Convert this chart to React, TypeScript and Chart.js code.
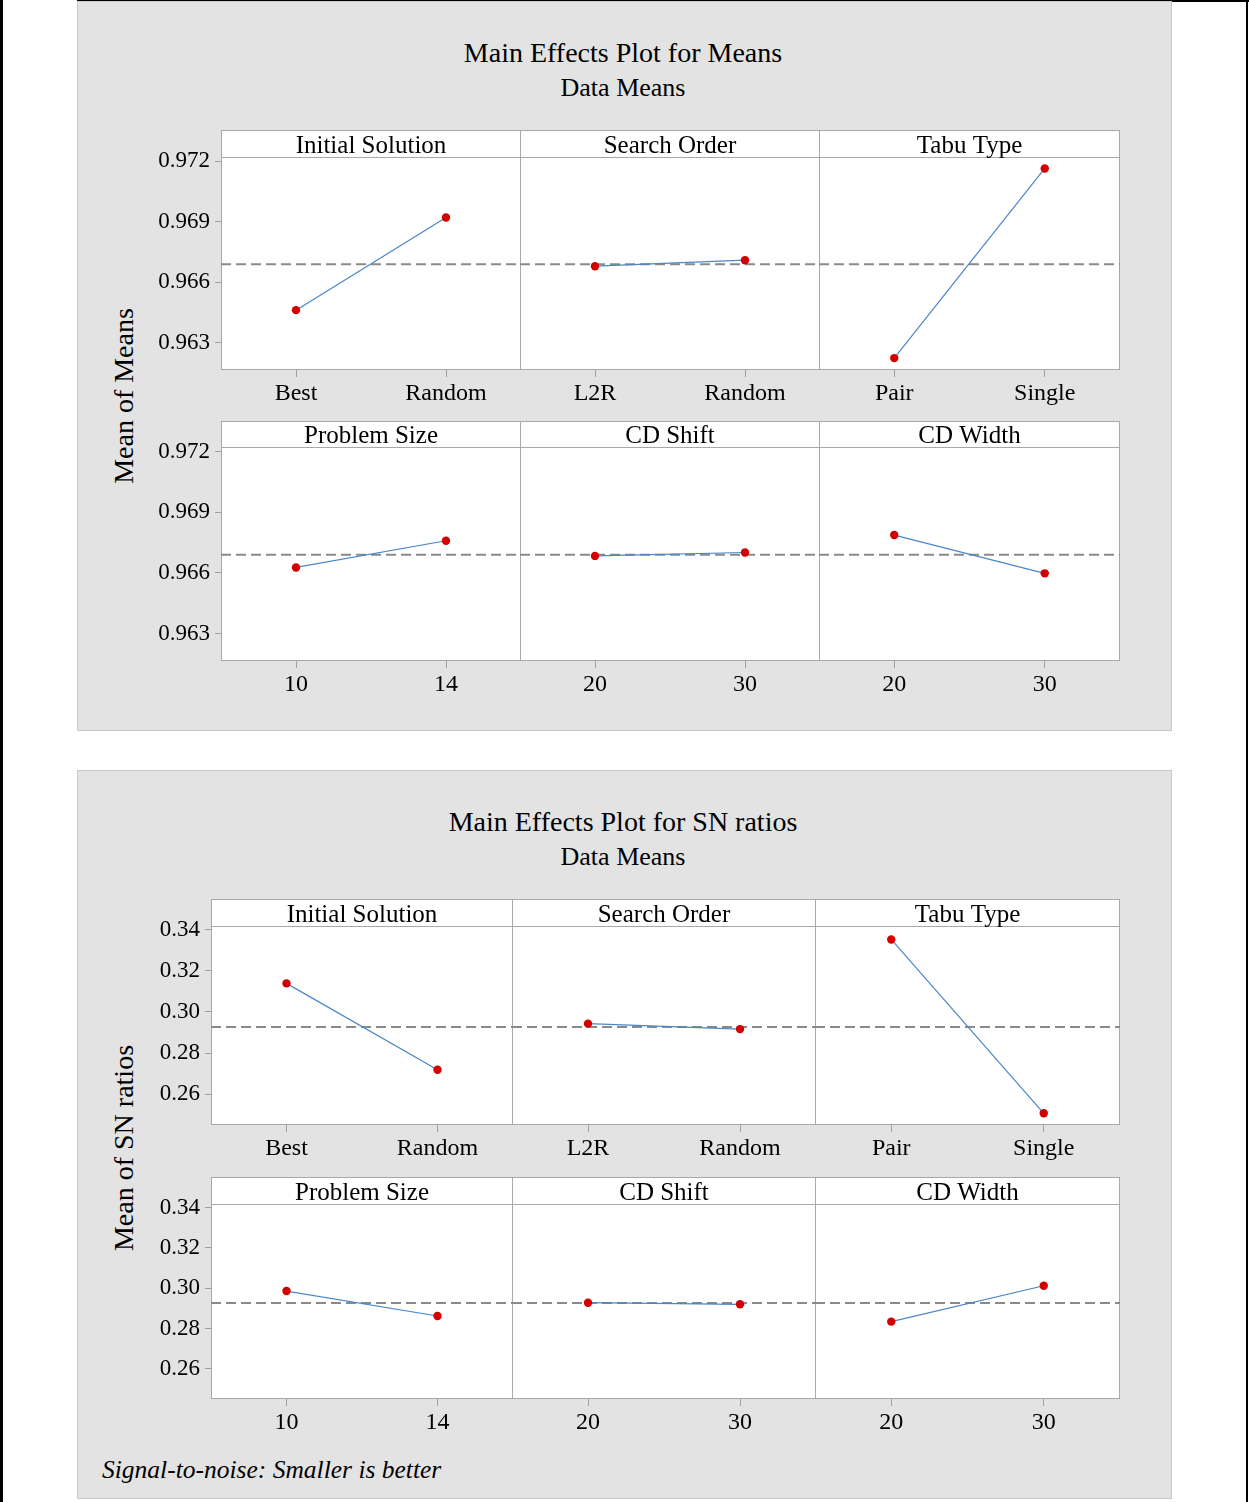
import React, { useEffect, useRef } from "react";
import { Chart, registerables } from "chart.js";

Chart.register(...registerables);

// ---------- data ----------
const factorNames = ["Initial Solution", "Search Order", "Tabu Type", "Problem Size", "CD Shift", "CD Width"];
const factorLevels = [
  ["Best", "Random"],
  ["L2R", "Random"],
  ["Pair", "Single"],
  ["10", "14"],
  ["20", "30"],
  ["20", "30"],
];
const meansValues = [
  [0.96462, 0.96922],
  [0.9668, 0.9671],
  [0.96224, 0.97165],
  [0.96627, 0.96759],
  [0.96684, 0.96701],
  [0.96787, 0.96598],
];
const meansGrand = 0.9669;
const meansTicks = [0.963, 0.966, 0.969, 0.972];
const snValues = [
  [0.31389, 0.27191],
  [0.2943, 0.29165],
  [0.33525, 0.2507],
  [0.29859, 0.28621],
  [0.2928, 0.292],
  [0.2834, 0.3012],
];
const snGrand = 0.2927;
const snTicks = [0.26, 0.28, 0.3, 0.32, 0.34];

const SERIF = '"Liberation Serif", "Times New Roman", serif';

type CellProps = {
  left: number;
  top: number;
  width: number;
  height: number;
  stripH: number;
  xAxisH: number;
  yAxisW: number;
  title: string;
  levels: string[];
  values: number[];
  grand: number;
  yMin: number;
  yMax: number;
  yTicks: number[];
  decimals: number;
};

function Cell(p: CellProps) {
  const ref = useRef<HTMLCanvasElement>(null);
  useEffect(() => {
    const frame = {
      id: "frame",
      beforeDraw(chart: any) {
        const { ctx, chartArea } = chart;
        const { left, top, right, bottom } = chartArea;
        ctx.save();
        ctx.fillStyle = "#ffffff";
        ctx.fillRect(left, top - p.stripH, right - left, bottom - top + p.stripH);
        ctx.strokeStyle = "#a8a8a8";
        ctx.lineWidth = 1;
        ctx.strokeRect(left + 0.5, top - p.stripH + 0.5, right - left - 1, bottom - top + p.stripH - 1);
        ctx.beginPath();
        ctx.moveTo(left, top + 0.5);
        ctx.lineTo(right, top + 0.5);
        ctx.stroke();
        ctx.fillStyle = "#000";
        ctx.font = `25px ${SERIF}`;
        ctx.textAlign = "center";
        ctx.textBaseline = "middle";
        ctx.fillText(p.title, (left + right) / 2, top - p.stripH / 2 + 2.5);
        ctx.restore();
      },
    };
    const chart = new Chart(ref.current as HTMLCanvasElement, {
      type: "line",
      data: {
        datasets: [
          {
            data: [
              { x: -0.5, y: p.grand },
              { x: 1.5, y: p.grand },
            ],
            borderColor: "#8a8a8a",
            borderWidth: 2,
            borderDash: [10, 5],
            pointRadius: 0,
            order: 2,
          },
          {
            data: p.values.map((v, i) => ({ x: i, y: v })),
            borderColor: "#4a86c8",
            borderWidth: 1.2,
            pointRadius: 4.2,
            pointBackgroundColor: "#d40000",
            pointBorderColor: "#d40000",
            pointBorderWidth: 0,
            order: 1,
          },
        ],
      },
      options: {
        animation: false,
        responsive: false,
        maintainAspectRatio: false,
        devicePixelRatio: 1,
        events: [],
        layout: { autoPadding: false, padding: { top: p.stripH, left: 0, right: 0, bottom: 0 } },
        plugins: { legend: { display: false }, tooltip: { enabled: false }, title: { display: false } },
        scales: {
          x: {
            type: "linear",
            min: -0.5,
            max: 1.5,
            afterBuildTicks: (s: any) => {
              s.ticks = [{ value: 0 }, { value: 1 }];
            },
            afterFit: (s: any) => {
              s.height = p.xAxisH;
            },
            ticks: {
              callback: (v: any) => p.levels[Math.round(Number(v))],
              font: { family: SERIF, size: 24 },
              color: "#000",
              padding: 2,
              autoSkip: false,
              maxRotation: 0,
            },
            grid: { drawOnChartArea: false, drawTicks: true, tickLength: 7, color: "#a0a0a0" },
            border: { display: false },
          },
          y: {
            type: "linear",
            display: p.yAxisW > 0,
            min: p.yMin,
            max: p.yMax,
            afterBuildTicks: (s: any) => {
              s.ticks = p.yTicks.map((v) => ({ value: v }));
            },
            afterFit: (s: any) => {
              s.width = p.yAxisW;
            },
            ticks: {
              callback: (v: any) => Number(v).toFixed(p.decimals),
              font: { family: SERIF, size: 23 },
              color: "#000",
              padding: 5,
            },
            grid: { drawOnChartArea: false, drawTicks: true, tickLength: 6, color: "#a0a0a0" },
            border: { display: false },
          },
        },
      },
      plugins: [frame],
    } as any);
    return () => chart.destroy();
  }, []);
  return (
    <canvas
      ref={ref}
      width={p.width}
      height={p.height}
      style={{ position: "absolute", left: p.left, top: p.top, width: p.width, height: p.height }}
    />
  );
}

type GridSpec = {
  cols: number[];
  rows: { top: number; stripBot: number; bot: number }[];
  yAxisW: number;
  values: number[][];
  grand: number;
  yMin: number;
  yMax: number;
  yTicks: number[];
  decimals: number;
};

function Grid(g: GridSpec) {
  const xAxisH = 40;
  const cells: React.ReactNode[] = [];
  g.rows.forEach((r, ri) => {
    for (let c = 0; c < 3; c++) {
      const idx = ri * 3 + c;
      const extra = c === 0 ? g.yAxisW : 0;
      cells.push(
        <Cell
          key={idx}
          left={g.cols[c] - extra}
          top={r.top}
          width={g.cols[c + 1] - g.cols[c] + 1 + extra}
          height={r.bot - r.top + 1 + xAxisH}
          stripH={r.stripBot - r.top}
          xAxisH={xAxisH}
          yAxisW={extra}
          title={factorNames[idx]}
          levels={factorLevels[idx]}
          values={g.values[idx]}
          grand={g.grand}
          yMin={g.yMin}
          yMax={g.yMax}
          yTicks={g.yTicks}
          decimals={g.decimals}
        />
      );
    }
  });
  return <>{cells}</>;
}

const textBase: React.CSSProperties = {
  position: "absolute",
  fontFamily: SERIF,
  color: "#000",
  whiteSpace: "nowrap",
  lineHeight: 1,
  transform: "translate(-50%, -50%)",
};

export default function App() {
  return (
    <div style={{ position: "absolute", left: 0, top: 0, width: 1249, height: 1502, background: "#fff", overflow: "hidden" }}>
      {/* page frame */}
      <div style={{ position: "absolute", left: 0, top: 0, width: 3, height: 1502, background: "#000" }} />
      <div style={{ position: "absolute", left: 77, top: 0, width: 1172, height: 2, background: "#000" }} />
      <div style={{ position: "absolute", left: 1246, top: 0, width: 2, height: 1502, background: "#000" }} />

      {/* panel 1 */}
      <div
        style={{
          position: "absolute",
          left: 77,
          top: 1,
          width: 1095,
          height: 730,
          boxSizing: "border-box",
          background: "#e3e3e3",
          border: "1px solid #c9c9c9",
        }}
      />
      <div style={{ ...textBase, left: 623, top: 53, fontSize: 28 }}>Main Effects Plot for Means</div>
      <div style={{ ...textBase, left: 623, top: 88, fontSize: 26 }}>Data Means</div>
      <div style={{ ...textBase, left: 124, top: 396, fontSize: 28, transform: "translate(-50%, -50%) rotate(-90deg)" }}>
        Mean of Means
      </div>
      <Grid
        cols={[221, 520, 819, 1119]}
        rows={[
          { top: 130, stripBot: 157, bot: 369 },
          { top: 421, stripBot: 447, bot: 660 },
        ]}
        yAxisW={75}
        values={meansValues}
        grand={meansGrand}
        yMin={0.96165}
        yMax={0.97222}
        yTicks={meansTicks}
        decimals={3}
      />

      {/* panel 2 */}
      <div
        style={{
          position: "absolute",
          left: 77,
          top: 770,
          width: 1095,
          height: 729,
          boxSizing: "border-box",
          background: "#e3e3e3",
          border: "1px solid #c9c9c9",
        }}
      />
      <div style={{ ...textBase, left: 623, top: 822, fontSize: 28 }}>Main Effects Plot for SN ratios</div>
      <div style={{ ...textBase, left: 623, top: 857, fontSize: 26 }}>Data Means</div>
      <div style={{ ...textBase, left: 124, top: 1148, fontSize: 28, transform: "translate(-50%, -50%) rotate(-90deg)" }}>
        Mean of SN ratios
      </div>
      <Grid
        cols={[211, 512, 815, 1119]}
        rows={[
          { top: 899, stripBot: 926, bot: 1124 },
          { top: 1177, stripBot: 1204, bot: 1398 },
        ]}
        yAxisW={65}
        values={snValues}
        grand={snGrand}
        yMin={0.245}
        yMax={0.3418}
        yTicks={snTicks}
        decimals={2}
      />
      <div
        style={{
          ...textBase,
          transform: "translate(0, -50%)",
          left: 102,
          top: 1470,
          fontSize: 25.5,
          fontStyle: "italic",
        }}
      >
        Signal-to-noise: Smaller is better
      </div>
    </div>
  );
}
